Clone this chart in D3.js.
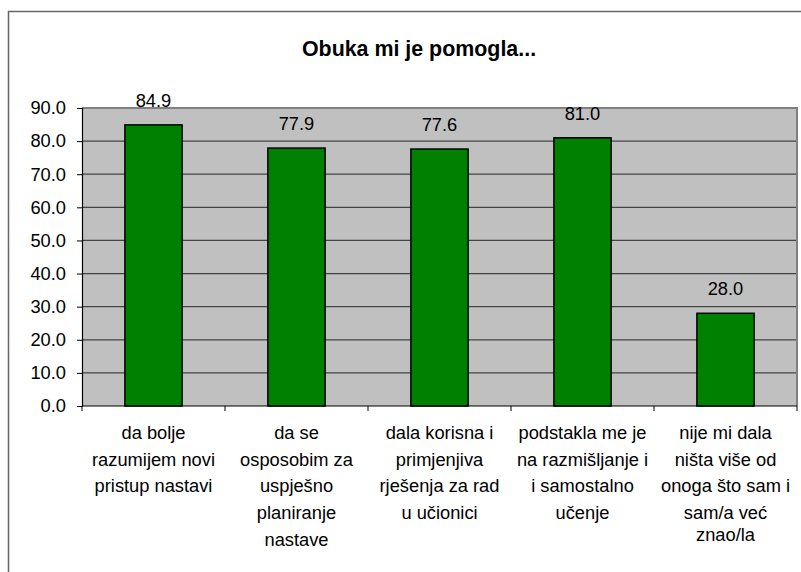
<!DOCTYPE html>
<html>
<head>
<meta charset="utf-8">
<script src="https://cdn.jsdelivr.net/npm/d3@7"></script>
<style>
  body { margin: 0; background: #fff; }
  svg text { font-family: "Liberation Sans", Arial, sans-serif; fill: #000; }
</style>
</head>
<body>
<div id="chart"></div>
<script>
const title = "Obuka mi je pomogla..."
const categories = [
  ["da bolje", "razumijem novi", "pristup nastavi"],
  ["da se", "osposobim za", "uspješno", "planiranje", "nastave"],
  ["dala korisna i", "primjenjiva", "rješenja za rad", "u učionici"],
  ["podstakla me je", "na razmišljanje i", "i samostalno", "učenje"],
  ["nije mi dala", "ništa više od", "onoga što sam i", "sam/a već", "znao/la"]
]
const values = [84.9, 77.9, 77.6, 81.0, 28.0]
const yTicks = [0, 10, 20, 30, 40, 50, 60, 70, 80, 90]

const width = 801
const height = 572
const margin = { left: 82, right: 4, top: 108, bottom: 166 }
const fontSize = 18.3

const svg = d3.select("#chart")
  .append("svg")
  .attr("width", width)
  .attr("height", height)

// outer chart frame (runs off the right / bottom of the picture)
svg.append("rect")
  .attr("x", 8.5).attr("y", 11.5)
  .attr("width", 840).attr("height", 600)
  .attr("fill", "#fff")
  .attr("stroke", "#666")
  .attr("stroke-width", 1.5)

svg.append("text")
  .attr("x", 419).attr("y", 56)
  .attr("text-anchor", "middle")
  .attr("font-size", 21.4)
  .attr("font-weight", "bold")
  .text(title)

const x = d3.scaleBand()
  .domain(d3.range(values.length))
  .range([margin.left, width - margin.right])
  .paddingInner(0.6)
  .paddingOuter(0.3)

const y = d3.scaleLinear()
  .domain([0, 90])
  .range([height - margin.bottom, margin.top])

const x0 = margin.left, x1 = width - margin.right
const y0 = y(0), y1 = y(90)

// plot area
svg.append("rect")
  .attr("x", x0).attr("y", y1)
  .attr("width", x1 - x0).attr("height", y0 - y1)
  .attr("fill", "#c0c0c0")

// gridlines
svg.append("g")
  .selectAll("line")
  .data(yTicks.filter(d => d > 0 && d < 90))
  .join("line")
  .attr("x1", x0).attr("x2", x1)
  .attr("y1", d => y(d)).attr("y2", d => y(d))
  .attr("stroke", "#444")
  .attr("stroke-width", 1.2)

// plot border top / right
svg.append("path")
  .attr("d", `M${x0},${y1}H${x1}V${y0}`)
  .attr("fill", "none")
  .attr("stroke", "#808080")
  .attr("stroke-width", 2)

// bars
svg.append("g")
  .selectAll("rect")
  .data(values)
  .join("rect")
  .attr("x", (d, i) => x(i))
  .attr("y", d => y(d))
  .attr("width", x.bandwidth())
  .attr("height", d => y0 - y(d))
  .attr("fill", "#008000")
  .attr("stroke", "#000")
  .attr("stroke-width", 1.5)

// value labels
svg.append("g")
  .selectAll("text")
  .data(values)
  .join("text")
  .attr("x", (d, i) => x(i) + x.bandwidth() / 2)
  .attr("y", d => y(d) - 18)
  .attr("text-anchor", "middle")
  .attr("font-size", fontSize)
  .text(d => d3.format(".1f")(d))

// y axis
const yAxis = svg.append("g")
  .attr("transform", `translate(${x0},0)`)
  .call(d3.axisLeft(y).tickValues(yTicks).tickFormat(d3.format(".1f")).tickSize(5).tickPadding(11))
yAxis.select(".domain").attr("stroke", "#000").attr("stroke-width", 1.2)
yAxis.selectAll(".tick line").attr("stroke", "#000")
yAxis.selectAll(".tick text").attr("font-size", fontSize).attr("font-family", null)

// x axis line + category separators
const step = (x1 - x0) / values.length
svg.append("line")
  .attr("x1", x0).attr("x2", x1)
  .attr("y1", y0).attr("y2", y0)
  .attr("stroke", "#000").attr("stroke-width", 1.2)
svg.append("g")
  .selectAll("line")
  .data(d3.range(values.length + 1))
  .join("line")
  .attr("x1", i => x0 + i * step).attr("x2", i => x0 + i * step)
  .attr("y1", y0).attr("y2", y0 + 5)
  .attr("stroke", "#000")

// category labels
const lineH = 26.7
svg.append("g")
  .selectAll("text")
  .data(categories)
  .join("text")
  .attr("text-anchor", "middle")
  .attr("font-size", fontSize)
  .each(function (lines, i) {
    const cx = x(i) + x.bandwidth() / 2
    d3.select(this).selectAll("tspan")
      .data(lines)
      .join("tspan")
      .attr("x", cx)
      .attr("y", (l, j) => y0 + 33 + j * lineH - (i === 4 && j === 4 ? 5 : 0))
      .text(l => l)
  })
</script>
</body>
</html>
